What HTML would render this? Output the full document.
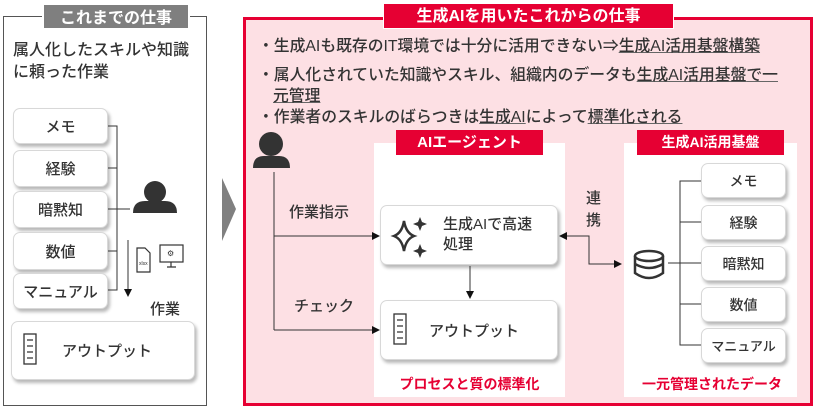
<!DOCTYPE html>
<html><head><meta charset="utf-8"><style>
*{margin:0;padding:0;box-sizing:border-box}
body{width:816px;height:409px;background:#fff;position:relative;overflow:hidden;font-family:"Liberation Sans","Noto Sans CJK JP",sans-serif;color:#333;font-weight:500}
.a{position:absolute}
.box{position:absolute;background:#fff;border:1px solid #d8d8d8;border-radius:7px;box-shadow:2px 3px 3px rgba(0,0,0,.28);display:flex;align-items:center;justify-content:center;font-size:15px;color:#333}
.u{text-decoration:underline;text-decoration-color:#666}
.redt{position:absolute;background:#e60033;color:#fff;font-weight:bold;text-align:center}
</style></head><body>
<!-- left panel -->
<div class="a" style="left:3px;top:16px;width:204px;height:390px;border:1.5px solid #555"></div>
<div class="a" style="left:42px;top:3px;width:148px;height:27px;background:#7f7f7f;color:#fff;font-size:16px;font-weight:bold;text-align:center;line-height:27px;border:2px solid #fff">これまでの仕事</div>
<div class="a" style="left:13px;top:40px;font-size:16px;line-height:22px;color:#333">属人化したスキルや知識<br>に頼った作業</div>
<div class="box" style="left:13px;top:108px;width:95px;height:36px">メモ</div>
<div class="box" style="left:13px;top:150px;width:95px;height:37px">経験</div>
<div class="box" style="left:13px;top:191px;width:95px;height:37px">暗黙知</div>
<div class="box" style="left:13px;top:232px;width:95px;height:38px">数値</div>
<div class="box" style="left:13px;top:273px;width:95px;height:36px">マニュアル</div>
<div class="box" style="left:11px;top:321px;width:184px;height:59px;justify-content:flex-start;padding-left:50px">アウトプット</div>
<div class="a" style="left:150px;top:298px;font-size:15px">作業</div>
<!-- right panel -->
<div class="a" style="left:243px;top:17px;width:570px;height:389px;border:3px solid #e60033;background:#fde0e4"></div>
<div class="redt" style="left:383px;top:3px;width:291px;height:26px;font-size:16px;line-height:26px;border:1px solid #fff">生成AIを用いたこれからの仕事</div>
<div class="a" style="left:258px;top:36px;font-size:15.8px;line-height:21px;color:#333;width:550px">
<div>・生成AIも既存のIT環境では十分に活用できない⇒<span class="u">生成AI活用基盤構築</span></div>
<div style="margin-top:8px">・属人化されていた知識やスキル、組織内のデータも<span class="u">生成AI活用基盤</span><span class="u">で一</span></div>
<div style="padding-left:15px"><span class="u">元管理</span></div>
<div>・作業者のスキルのばらつきは<span class="u">生成AI</span>によって<span class="u">標準化される</span></div>
</div>
<div class="a" style="left:374px;top:143px;width:191px;height:254px;background:#fff"></div>
<div class="a" style="left:624px;top:143px;width:173px;height:254px;background:#fff"></div>
<div class="redt" style="left:396px;top:130px;width:147px;height:25px;font-size:15px;line-height:25px">AIエージェント</div>
<div class="redt" style="left:637px;top:130px;width:147px;height:25px;font-size:14px;line-height:25px">生成AI活用基盤</div>
<div class="box" style="left:380px;top:205px;width:178px;height:60px;justify-content:flex-start;padding-left:62px;line-height:20px">生成AIで高速<br>処理</div>
<div class="box" style="left:380px;top:300px;width:178px;height:60px;justify-content:flex-start;padding-left:48px">アウトプット</div>
<div class="a" style="left:289px;top:201px;font-size:15px">作業指示</div>
<div class="a" style="left:294px;top:295px;font-size:15px">チェック</div>
<div class="a" style="left:586px;top:188px;font-size:15px;line-height:22px;width:16px">連<br>携</div>
<div class="a" style="left:374px;top:374px;width:191px;text-align:center;color:#e60033;font-weight:bold;font-size:14px">プロセスと質の標準化</div>
<div class="a" style="left:624px;top:374px;width:176px;text-align:center;color:#e60033;font-weight:bold;font-size:14px">一元管理されたデータ</div>
<div class="box" style="left:701px;top:163px;width:85px;height:35px;font-size:14px">メモ</div>
<div class="box" style="left:701px;top:205px;width:85px;height:35px;font-size:14px">経験</div>
<div class="box" style="left:701px;top:246px;width:85px;height:35px;font-size:14px">暗黙知</div>
<div class="box" style="left:701px;top:287px;width:85px;height:35px;font-size:14px">数値</div>
<div class="box" style="left:701px;top:328px;width:85px;height:35px;font-size:13px">マニュアル</div>
<svg class="a" style="left:0;top:0" width="816" height="409">
<defs><marker id="ar" markerWidth="8" markerHeight="8" refX="7" refY="4" orient="auto" markerUnits="userSpaceOnUse"><path d="M0,0 L8,4 L0,8Z" fill="#111"/></marker>
<marker id="as" markerWidth="8" markerHeight="8" refX="1" refY="4" orient="auto" markerUnits="userSpaceOnUse"><path d="M8,0 L0,4 L8,8Z" fill="#111"/></marker></defs>
<g stroke="#333" stroke-width="1" fill="none">
<path d="M108,126 H117 V290 H108 M108,168 H117 M108,209 H117 M108,251 H117 M117,209 H130"/>
<line x1="128" y1="240" x2="128" y2="296" marker-end="url(#ar)"/>
<path d="M274,172 V330"/>
<line x1="274" y1="236" x2="379" y2="236" marker-end="url(#ar)"/>
<line x1="274" y1="330" x2="379" y2="330" marker-end="url(#ar)"/>
<line x1="470" y1="266" x2="470" y2="298" marker-end="url(#ar)"/>
<path d="M560,236 H589 V264 H621" marker-start="url(#as)" marker-end="url(#ar)"/>
<path d="M701,181 H680 V345 H701 M680,222 H701 M680,263 H701 M680,304 H701 M668,263 H680"/>
</g>
<polygon points="222,178 236,209 222,241" fill="#808080"/>
<g fill="#333"><circle cx="155" cy="192" r="11"/><path d="M133,213 Q133,201 145,201 H165 Q177,201 177,213 Z"/></g>
<g fill="#333"><circle cx="271" cy="144" r="12"/><path d="M253,168 Q253,156 264,156 H279 Q290,156 290,168 Z"/></g>
<g stroke="#333" fill="none" stroke-width="1.2"><path d="M137,248 h8 l5,5 v19 h-13z"/><rect x="160" y="245" width="23" height="17"/><path d="M167,267 h9 M171,262 v5"/></g>
<text x="139" y="265" font-size="5" fill="#333">xlsx</text>
<text x="167" y="256" font-size="8" fill="#333">⚙</text>
<g stroke="#333" fill="none" stroke-width="1.3"><rect x="24" y="334" width="12" height="30"/><path d="M27,340h6M27,346h6M27,352h6M27,358h6"/>
<rect x="394" y="314" width="12" height="30"/><path d="M397,320h6M397,326h6M397,332h6M397,338h6"/></g>
<g fill="#333"><path d="M404,221 Q406,233 414,236 Q406,239 404,251 Q402,239 394,236 Q402,233 404,221Z" fill="none" stroke="#333" stroke-width="2.5"/>
<path d="M420,217 l2,5 l5,2 l-5,2 l-2,5 l-2,-5 l-5,-2 l5,-2z"/><path d="M420,244 l2,5 l5,2 l-5,2 l-2,5 l-2,-5 l-5,-2 l5,-2z"/></g>
<g stroke="#333" stroke-width="2.5" fill="none"><ellipse cx="649" cy="256" rx="14" ry="5"/><path d="M635,256 V273 Q649,283 663,273 V256 M635,264 Q649,272 663,264"/></g>
</svg>
</body></html>
